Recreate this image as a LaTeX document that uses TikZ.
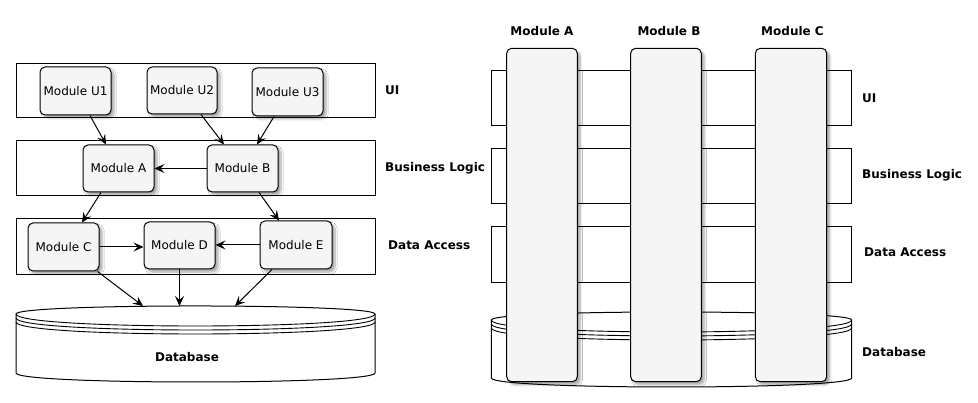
\documentclass[tikz,border=0pt]{standalone}
\usepackage{fontspec}
\setmainfont{DejaVu Sans}
\usetikzlibrary{arrows.meta,shadows.blur,calc}
\newcommand\dbcyl[4]{%
  \draw[line width=1pt, fill=white] (#1,#3) .. controls (#1,#3-10.7) and (#2,#3-10.7) .. (#2,#3) -- (#2,#4) .. controls (#2,#4+12) and (#1,#4+12) .. (#1,#4) -- cycle;
  \foreach \o in {0,4,8}{\draw[line width=0.9pt] (#1,#3+\o) .. controls (#1,#3+\o+16) and (#2,#3+\o+16) .. (#2,#3+\o);}
}
\begin{document}
\begin{tikzpicture}[x=1pt,y=-1pt,
  module/.style={draw=black, line width=1pt, rounded corners=5pt, fill=black!4,
    blur shadow={shadow xshift=3pt,shadow yshift=-3pt,shadow blur steps=6,shadow opacity=35},
    inner sep=0pt, font=\fontsize{12}{14}\selectfont},
  layer/.style={draw=black, line width=1pt, fill=white, inner sep=0pt},
  lbl/.style={font=\fontsize{12}{14}\selectfont\bfseries, anchor=west, inner sep=0pt},
  hdr/.style={font=\fontsize{12}{14}\selectfont\bfseries, inner sep=0pt},
  arr/.style={line width=1pt, -{Stealth[length=10pt,width=9pt,inset=4pt]}},
]
\useasboundingbox (0,0) rectangle (978,403);

% ---------- left panel ----------
\node[layer, minimum width=359pt, minimum height=54pt] (uiL) at (195.5,91) {};
\node[layer, minimum width=359pt, minimum height=55pt] (blL) at (195.5,168.5) {};
\node[layer, minimum width=359pt, minimum height=56pt] (daL) at (195.5,247) {};
\dbcyl{16}{375}{314}{373}
\coordinate (dbtopL) at (195.5,306);

\node[module, minimum width=71pt, minimum height=48pt] (U1) at (75.5,91) {Module U1};
\node[module, minimum width=70pt, minimum height=47pt] (U2) at (182,90.5) {Module U2};
\node[module, minimum width=71pt, minimum height=48pt] (U3) at (287.5,92) {Module U3};
\node[module, minimum width=71pt, minimum height=47pt] (A) at (118.5,168.5) {Module A};
\node[module, minimum width=71pt, minimum height=47pt] (B) at (242.5,168.5) {Module B};
\node[module, minimum width=71pt, minimum height=48pt] (C) at (63.5,247) {Module C};
\node[module, minimum width=71pt, minimum height=47pt] (D) at (179.5,245.5) {Module D};
\node[module, minimum width=72pt, minimum height=48pt] (E) at (296,245) {Module E};

\draw[arr] ([xshift=14.5pt]U1.south) -- ([xshift=-12.5pt]A.north);
\draw[arr] ([xshift=19pt]U2.south) -- ([xshift=-18.5pt]B.north);
\draw[arr] ([xshift=-13.5pt]U3.south) -- ([xshift=14.5pt]B.north);
\draw[arr] (B.west) -- (A.east);
\draw[arr] ([xshift=-17.5pt]A.south) -- ([xshift=18.5pt]C.north);
\draw[arr] ([xshift=16.5pt]B.south) -- ([xshift=-17pt]E.north);
\draw[arr] (C.east) -- (C.east -| D.west);
\draw[arr] (E.west) -- (E.west -| D.east);
\draw[arr] ([xshift=-2pt]C.south east) -- ([xshift=-52.5pt]dbtopL);
\draw[arr] (D.south) -- (D.south |- dbtopL);
\draw[arr] ([xshift=-24pt]E.south) -- ([xshift=39.5pt]dbtopL);

\node[lbl] (lUI) at (385,90) {UI};
\node[lbl] (lBL) at (385,168) {Business Logic};
\node[lbl] (lDA) at (388,245) {Data Access};
\node[hdr] (lDB) at (187,357) {Database};

% ---------- right panel ----------
\node[layer, minimum width=360.4pt, minimum height=55pt] (uiR) at (671.5,97.8) {};
\node[layer, minimum width=360.4pt, minimum height=55pt] (blR) at (671.5,175.8) {};
\node[layer, minimum width=360.4pt, minimum height=56.3pt] (daR) at (671.5,254.2) {};
\dbcyl{491.3}{851.7}{320}{378}

\node[module, minimum width=70.6pt, minimum height=333.4pt] (colA) at (542,215) {};
\node[module, minimum width=70.6pt, minimum height=333.4pt] (colB) at (666,215) {};
\node[module, minimum width=71.4pt, minimum height=333.4pt] (colC) at (791,215) {};

\node[hdr] (hA) at (542,31) {Module A};
\node[hdr] (hB) at (669,31) {Module B};
\node[hdr] (hC) at (792.5,31) {Module C};

\node[lbl] (rUI) at (862,98) {UI};
\node[lbl] (rBL) at (862,175) {Business Logic};
\node[lbl] (rDA) at (864,252) {Data Access};
\node[lbl] (rDB) at (862,352) {Database};
\end{tikzpicture}
\end{document}
